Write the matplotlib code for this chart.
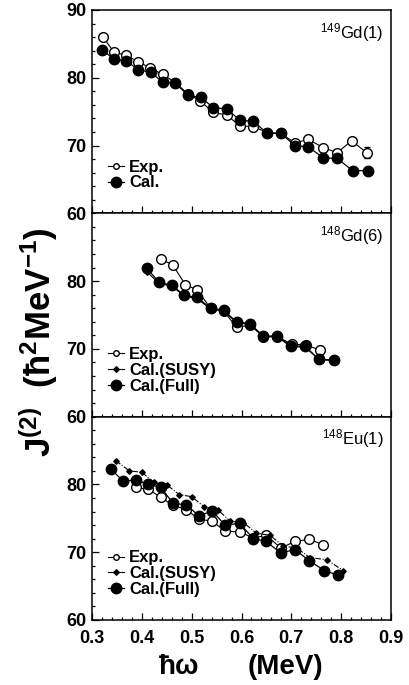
import numpy as np
import matplotlib
matplotlib.use('Agg')
import matplotlib.pyplot as plt
from matplotlib.lines import Line2D
from matplotlib.ticker import MultipleLocator

plt.rcParams['font.family'] = ['Liberation Sans', 'DejaVu Sans']
plt.rcParams['mathtext.default'] = 'regular'

# 149Gd(1)
w_exp1 = [0.322, 0.344, 0.368, 0.393, 0.417, 0.442, 0.467, 0.493, 0.517, 0.543, 0.570,
          0.597, 0.624, 0.652, 0.679, 0.707, 0.734, 0.764, 0.792, 0.821, 0.851]
j_exp1 = [86.0, 83.8, 83.3, 82.4, 81.4, 80.5, 79.3, 77.6, 76.6, 74.9, 74.5,
          72.9, 72.8, 71.9, 71.8, 70.4, 70.9, 69.7, 68.95, 70.7, 68.95]
e_exp1 = [0] * 20 + [0.8]
w_cal1 = [0.321, 0.345, 0.368, 0.393, 0.418, 0.442, 0.467, 0.493, 0.519, 0.543, 0.570,
          0.597, 0.624, 0.652, 0.679, 0.707, 0.734, 0.764, 0.792, 0.823, 0.853]
j_cal1 = [84.1, 82.7, 82.5, 81.2, 80.8, 79.35, 79.2, 77.4, 77.1, 75.6, 75.4,
          73.75, 73.55, 71.8, 71.8, 70.0, 69.8, 68.2, 68.1, 66.3, 66.3]

# 148Gd(6)
w_exp2 = [0.438, 0.462, 0.487, 0.511, 0.538, 0.564, 0.590, 0.617, 0.644, 0.672, 0.701, 0.729, 0.758]
j_exp2 = [83.25, 82.4, 79.5, 78.7, 76.0, 75.6, 73.2, 73.5, 71.8, 71.8, 70.7, 70.6, 69.8]
e_exp2 = [0] * 12 + [0.6]
w_cal2 = [0.410, 0.435, 0.460, 0.485, 0.511, 0.538, 0.564, 0.590, 0.617, 0.644, 0.672,
          0.699, 0.727, 0.756, 0.786]
j_full2 = [81.9, 79.8, 79.4, 77.9, 77.6, 76.0, 75.7, 74.0, 73.7, 71.9, 71.9, 70.4, 70.4, 68.45, 68.35]
j_susy2 = [81.4, 79.6, 79.3, 77.8, 77.4, 75.9, 75.6, 73.9, 73.6, 71.8, 71.8, 70.3, 70.3, 68.4, 68.3]

# 148Eu(1)
w_exp3 = [0.388, 0.413, 0.438, 0.463, 0.489, 0.515, 0.541, 0.567, 0.596, 0.624, 0.650,
          0.679, 0.707, 0.736, 0.764]
j_exp3 = [79.55, 79.3, 78.1, 76.9, 76.3, 74.85, 74.6, 73.1, 73.0, 72.1, 72.5, 70.6, 71.6, 71.9, 71.1]
w_susy3 = [0.348, 0.375, 0.400, 0.424, 0.450, 0.475, 0.500, 0.525, 0.552, 0.577, 0.604,
           0.630, 0.657, 0.684, 0.711, 0.7375, 0.771, 0.804]
j_susy3 = [83.5, 82.0, 81.8, 80.3, 79.95, 78.5, 78.2, 76.7, 76.3, 74.6, 74.36,
           72.8, 72.5, 70.9, 70.6, 69.2, 68.9, 67.3]
w_full3 = [0.3375, 0.363, 0.388, 0.413, 0.438, 0.463, 0.489, 0.515, 0.541, 0.567, 0.596,
           0.624, 0.649, 0.679, 0.707, 0.736, 0.766, 0.794]
j_full3 = [82.3, 80.45, 80.7, 80.0, 79.55, 77.2, 77.0, 75.35, 76.1, 74.0, 74.26,
           72.0, 71.6, 69.9, 70.4, 68.76, 67.3, 66.6]

names = ['$^{149}$Gd(1)', '$^{148}$Gd(6)', '$^{148}$Eu(1)']
xticks = [0.3, 0.4, 0.5, 0.6, 0.7, 0.8, 0.9]

fig = plt.figure(figsize=(4.09, 6.85), dpi=100)
L, R, T, B = 92 / 409, 391 / 409, 1 - 10 / 685, 1 - 620 / 685
h = (T - B) / 3
axs = [fig.add_axes([L, B + (2 - i) * h, R - L, h]) for i in range(3)]

exp_kw = dict(marker='o', ms=7, mfc='white', mec='black', mew=1.0, color='black', lw=0.8)
full_kw = dict(marker='o', ms=7.5, mfc='black', mec='black', color='black', lw=0.9)
susy_kw = dict(marker='D', ms=2.8, mfc='black', mec='black', color='black', lw=0.8)

ax = axs[0]
ax.errorbar(w_exp1, j_exp1, yerr=e_exp1, capsize=2, elinewidth=0.8, zorder=2, **exp_kw)
ax.plot(w_cal1, j_cal1, zorder=3, **full_kw)

ax = axs[1]
ax.errorbar(w_exp2, j_exp2, yerr=e_exp2, capsize=2, elinewidth=0.8, zorder=2, **exp_kw)
ax.plot(w_cal2, j_susy2, zorder=3, **susy_kw)
ax.plot(w_cal2, j_full2, zorder=4, **full_kw)

ax = axs[2]
ax.plot(w_exp3, j_exp3, zorder=2, **exp_kw)
ax.plot(w_susy3, j_susy3, zorder=3, ls=(0, (5, 1.5, 1, 1.5)), **susy_kw)
ax.plot(w_full3, j_full3, zorder=4, **full_kw)

h_exp = Line2D([], [], marker='o', ms=4, mfc='white', mec='black', color='black', lw=0.8)
h_full = Line2D([], [], **full_kw)
h_susy = Line2D([], [], **susy_kw)
leg_kw = dict(frameon=False, loc='lower left', handlelength=1.0, handletextpad=0.3,
              labelspacing=0.05, borderaxespad=0.0, prop=dict(size=12, weight='bold'))
axs[0].legend([h_exp, h_full], ['Exp.', 'Cal.'], bbox_to_anchor=(0.03, 0.08), **leg_kw)
axs[1].legend([h_exp, h_susy, h_full], ['Exp.', 'Cal.(SUSY)', 'Cal.(Full)'],
              bbox_to_anchor=(0.03, 0.08), **leg_kw)
axs[2].legend([h_exp, h_susy, h_full], ['Exp.', 'Cal.(SUSY)', 'Cal.(Full)'],
              bbox_to_anchor=(0.03, 0.08), **leg_kw)

for i, ax in enumerate(axs):
    ax.set_xlim(0.3, 0.9)
    ax.set_ylim(60, 90)
    ax.set_xticks(xticks)
    ax.xaxis.set_minor_locator(MultipleLocator(0.02))
    ax.set_yticks([60, 70, 80, 90] if i == 0 else [60, 70, 80])
    ax.yaxis.set_minor_locator(MultipleLocator(2))
    ax.tick_params(which='both', direction='in', top=False, right=False, width=0.9)
    ax.tick_params(which='major', length=5, labelsize=13, pad=4)
    ax.tick_params(which='minor', length=2.5)
    ax.tick_params(axis='x', which='major', pad=7)
    for lab in ax.get_yticklabels():
        lab.set_fontweight('bold')
    if i < 2:
        ax.tick_params(labelbottom=False)
    else:
        ax.set_xticklabels(['0.3', '0.4', '0.5', '0.6', '0.7', '0.8', '0.9'], fontweight='bold')
    for s in ax.spines.values():
        s.set_linewidth(1.1)
    ax.text(0.975, 0.89, names[i], transform=ax.transAxes, ha='right', va='center', fontsize=12)

fig.text(0.095, 0.50, 'J$^{(2)}$  (ħ$^{2}$MeV$^{-1}$)', rotation=90, ha='center', va='center',
         fontsize=25, fontweight='bold')
fig.text(179 / 409, 0.027, 'ħω', ha='center', va='center', fontsize=20, fontweight='bold')
fig.text(285 / 409, 0.027, '(MeV)', ha='center', va='center', fontsize=20, fontweight='bold')

fig.savefig('out.png', dpi=100)
